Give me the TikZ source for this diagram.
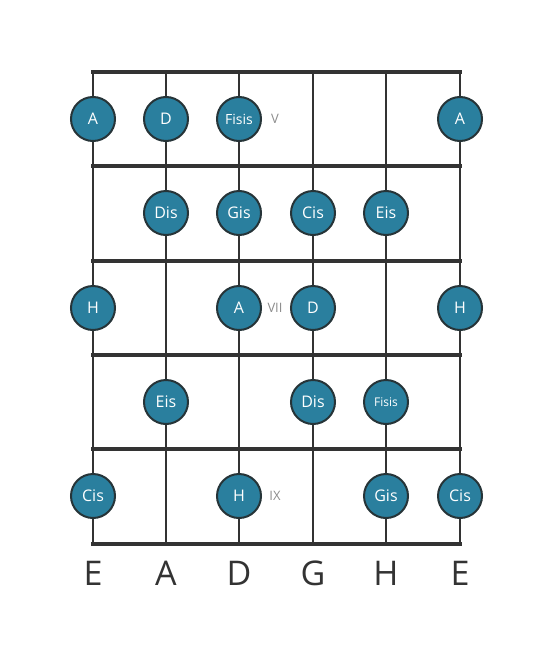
\documentclass[tikz,border=0pt]{standalone}
\usepackage{fontspec}
\setmainfont{Open Sans}
\usetikzlibrary{positioning}
\definecolor{notefill}{HTML}{2A7F9E}
\definecolor{noteedge}{HTML}{263438}
\definecolor{boardline}{HTML}{333333}
\definecolor{fretmark}{HTML}{8C8C8C}
\tikzset{
    note/.style={
    circle,draw=noteedge,line width=2pt,fill=notefill,text=white,
    minimum size=44pt,inner sep=0pt,font=\fontsize{16}{16}\selectfont
    },
    smallnote/.style={
    note,font=\fontsize{14}{14}\selectfont
    },
    fretno/.style={
    text=fretmark,font=\fontsize{13}{13}\selectfont
    },
    stringname/.style={
    text=boardline,font=\fontsize{34}{34}\selectfont
    },
    stringline/.style={
    draw=boardline,line width=2.5pt
    },
    fretline/.style={
    draw=boardline,line width=4.5pt
    },
}
\begin{document}
\begin{tikzpicture}[x=1pt,y=-1pt]
   \useasboundingbox (0,0) rectangle (553,656);

   % strings
   \coordinate (s1t) at (93,72);  \coordinate (s1b) at (93,544);
   \coordinate (s2t) at (166,72); \coordinate (s2b) at (166,544);
   \coordinate (s3t) at (239,72); \coordinate (s3b) at (239,544);
   \coordinate (s4t) at (313,72); \coordinate (s4b) at (313,544);
   \coordinate (s5t) at (386,72); \coordinate (s5b) at (386,544);
   \coordinate (s6t) at (460,72); \coordinate (s6b) at (460,544);
   \draw[stringline] (s1t) -- (s1b);
   \draw[stringline] (s2t) -- (s2b);
   \draw[stringline] (s3t) -- (s3b);
   \draw[stringline] (s4t) -- (s4b);
   \draw[stringline] (s5t) -- (s5b);
   \draw[stringline] (s6t) -- (s6b);

   % frets
   \coordinate (f0l) at (91,72);  \coordinate (f0r) at (462,72);
   \coordinate (f1l) at (91,166); \coordinate (f1r) at (462,166);
   \coordinate (f2l) at (91,261); \coordinate (f2r) at (462,261);
   \coordinate (f3l) at (91,355); \coordinate (f3r) at (462,355);
   \coordinate (f4l) at (91,449); \coordinate (f4r) at (462,449);
   \coordinate (f5l) at (91,544); \coordinate (f5r) at (462,544);
   \draw[fretline] (f0l) -- (f0r);
   \draw[fretline] (f1l) -- (f1r);
   \draw[fretline] (f2l) -- (f2r);
   \draw[fretline] (f3l) -- (f3r);
   \draw[fretline] (f4l) -- (f4r);
   \draw[fretline] (f5l) -- (f5r);

   % fret V
   \node[note] (n1a) at (93,119) {A};
   \node[note] (n1b) at (166,119) {D};
   \node[smallnote] (n1c) at (239,119) {Fisis};
   \node[fretno] (V) at (275,119) {V};
   \node[note] (n1f) at (460,119) {A};

   % fret VI
   \node[note] (n2b) at (166,213) {Dis};
   \node[note] (n2c) at (239,213) {Gis};
   \node[note] (n2d) at (313,213) {Cis};
   \node[note] (n2e) at (386,213) {Eis};

   % fret VII
   \node[note] (n3a) at (93,308) {H};
   \node[note] (n3c) at (239,308) {A};
   \node[fretno] (VII) at (275,308) {VII};
   \node[note] (n3d) at (313,308) {D};
   \node[note] (n3f) at (460,308) {H};

   % fret VIII
   \node[note] (n4b) at (166,402) {Eis};
   \node[note] (n4d) at (313,402) {Dis};
   \node[note,font=\fontsize{12}{12}\selectfont] (n4e) at (386,402) {Fisis};

   % fret IX
   \node[note] (n5a) at (93,496) {Cis};
   \node[note] (n5c) at (239,496) {H};
   \node[fretno] (IX) at (275,496) {IX};
   \node[note] (n5e) at (386,496) {Gis};
   \node[note] (n5f) at (460,496) {Cis};

   % string names
   \node[stringname] (e1) at (93,573) {E};
   \node[stringname] (a) at (166,573) {A};
   \node[stringname] (d) at (239,573) {D};
   \node[stringname] (g) at (313,573) {G};
   \node[stringname] (h) at (386,573) {H};
   \node[stringname] (e2) at (460,573) {E};
\end{tikzpicture}
\end{document}
